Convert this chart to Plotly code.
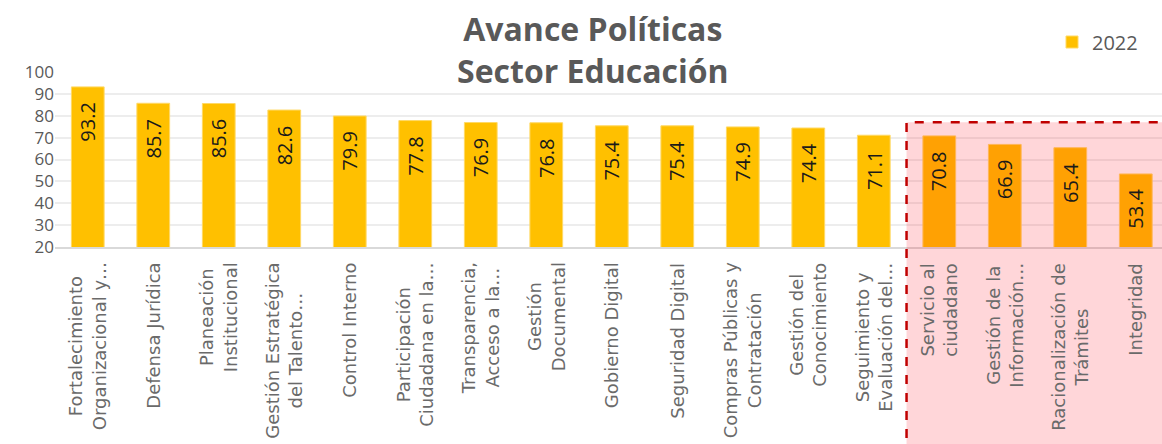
import plotly.graph_objects as go

# Categories (as shown, truncated like in the source chart)
categorias = [
    "Fortalecimiento<br>Organizacional y…",
    "Defensa Jurídica",
    "Planeación<br>Institucional",
    "Gestión Estratégica<br>del Talento…",
    "Control Interno",
    "Participación<br>Ciudadana en la…",
    "Transparencia,<br>Acceso a la…",
    "Gestión<br>Documental",
    "Gobierno Digital",
    "Seguridad Digital",
    "Compras Públicas y<br>Contratación",
    "Gestión del<br>Conocimiento",
    "Seguimiento y<br>Evaluación del…",
    "Servicio al<br>ciudadano",
    "Gestión de la<br>Información…",
    "Racionalización de<br>Trámites",
    "Integridad",
]
avance_2022 = [93.2, 85.7, 85.6, 82.6, 79.9, 77.8, 76.9, 76.8, 75.4, 75.4,
               74.9, 74.4, 71.1, 70.8, 66.9, 65.4, 53.4]
y_ticks = [20, 30, 40, 50, 60, 70, 80, 90, 100]

FONT = "Open Sans"
LABEL_FONT = "DejaVu Sans"
GRAY = "#595959"

x_idx = list(range(len(categorias)))

fig = go.Figure()

fig.add_trace(go.Bar(
    x=x_idx,
    y=avance_2022,
    name="2022",
    marker=dict(color="#FFC000", line=dict(color="#FFD966", width=1)),
    width=0.5,
))

# Value labels inside the top of each bar
for i, v in enumerate(avance_2022):
    fig.add_annotation(
        x=i, y=v, xref="x", yref="y",
        text=f"{v:.1f}", showarrow=False, textangle=-90,
        xanchor="center", yanchor="top", yshift=-13,
        font=dict(family=FONT, size=20, color="#1a1a1a"),
    )

# Category labels, rotated, lines centred on each other
for i, cat in enumerate(categorias):
    fig.add_annotation(
        x=i, y=-0.077, xref="x", yref="paper",
        text=cat, showarrow=False, textangle=-90,
        xanchor="center", yanchor="top", align="center",
        font=dict(family=LABEL_FONT, size=18, color="#6a6a6a"),
    )

# Title
fig.add_annotation(
    x=0.486, y=1.131, xref="paper", yref="paper",
    text="<b>Avance Políticas<br>Sector Educación</b>",
    showarrow=False, xanchor="center", yanchor="middle", align="center",
    font=dict(family=FONT, size=32, color=GRAY),
)

# Highlighted group (last four policies)
fig.add_shape(
    type="rect", xref="x", yref="paper",
    x0=12.5, x1=17.5, y0=-1.3, y1=(77 - 20) / 80,
    fillcolor="rgba(255,0,20,0.16)",
    line=dict(color="#C00000", width=2.5, dash="dash"),
    layer="above",
)

fig.update_layout(
    width=1162,
    height=444,
    margin=dict(l=55, r=0, t=72, b=197, autoexpand=False),
    paper_bgcolor="white",
    plot_bgcolor="white",
    showlegend=True,
    legend=dict(
        x=(1052 - 55) / 1107, y=(247 - 42) / 175, xanchor="left", yanchor="middle",
        font=dict(family=FONT, size=20, color=GRAY),
        bgcolor="rgba(0,0,0,0)",
    ),
    xaxis=dict(
        range=[-0.5, 16.4],
        showticklabels=False,
        showgrid=False,
        showline=True, linecolor="#D9D9D9", linewidth=2,
        ticks="",
        fixedrange=True,
    ),
    yaxis=dict(
        range=[20, 100],
        tickvals=y_ticks,
        tickfont=dict(family=FONT, size=17, color=GRAY),
        showgrid=True, gridcolor="#EDEDED", gridwidth=1.5,
        zeroline=False,
        showline=False,
        ticks="",
    ),
    bargap=0.5,
)

fig.write_html(
    "out.html",
    config={"displayModeBar": False},
    post_script="document.body.style.margin='0';",
)
